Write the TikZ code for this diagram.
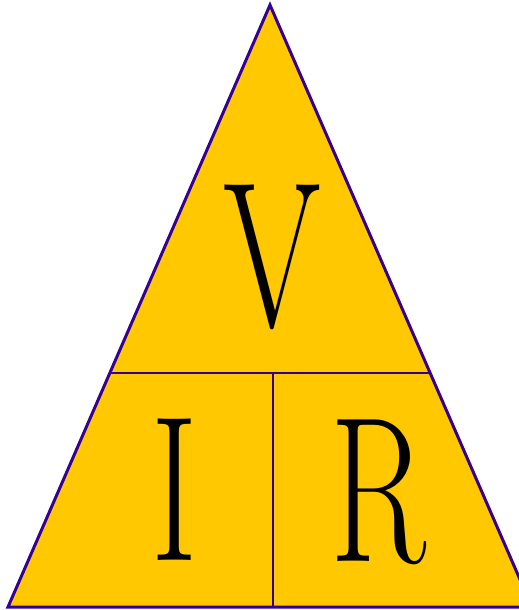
\documentclass[tikz,border=0pt]{standalone}
\usepackage{fontspec}
\usepackage{xcolor}
\usepackage{tikz}
\usetikzlibrary{positioning,calc}
\definecolor{edge}{HTML}{330099}
\definecolor{gold}{HTML}{FFC800}
\tikzset{
    outline/.style={draw=edge, fill=gold, line width=1.7pt, line join=miter},
    divider/.style={draw=edge, line width=1.3pt},
    letter/.style={inner sep=0pt, transform shape, xscale=0.68, font=\fontsize{118}{118}\selectfont, text=black}
}

\begin{document}
\begin{tikzpicture}[x=0.02cm, y=-0.02cm]
\useasboundingbox (0,0) rectangle (519,610);
\clip (0,0) rectangle (519,610);

% Corners
\coordinate (apex) at (270,5);
\coordinate (bl) at (8,607);
\coordinate (br) at (532,607);
\coordinate (ml) at ($(apex)!0.611!(bl)$);
\coordinate (mr) at ($(apex)!0.611!(br)$);
\coordinate (mid) at (273,373);
\coordinate (bm) at (273,607);

% Triangle and dividers
\draw[outline] (apex) -- (bl) -- (br) -- cycle;
\draw[divider] (ml) -- (mr);
\draw[divider] (mid) -- (bm);

% Letters
\node[letter] (volt) at (272,257) {V};
\node[letter] (amp) at (175,490) {I};
\node[letter] (ohm) at (378,492) {R};

\end{tikzpicture}
\end{document}
